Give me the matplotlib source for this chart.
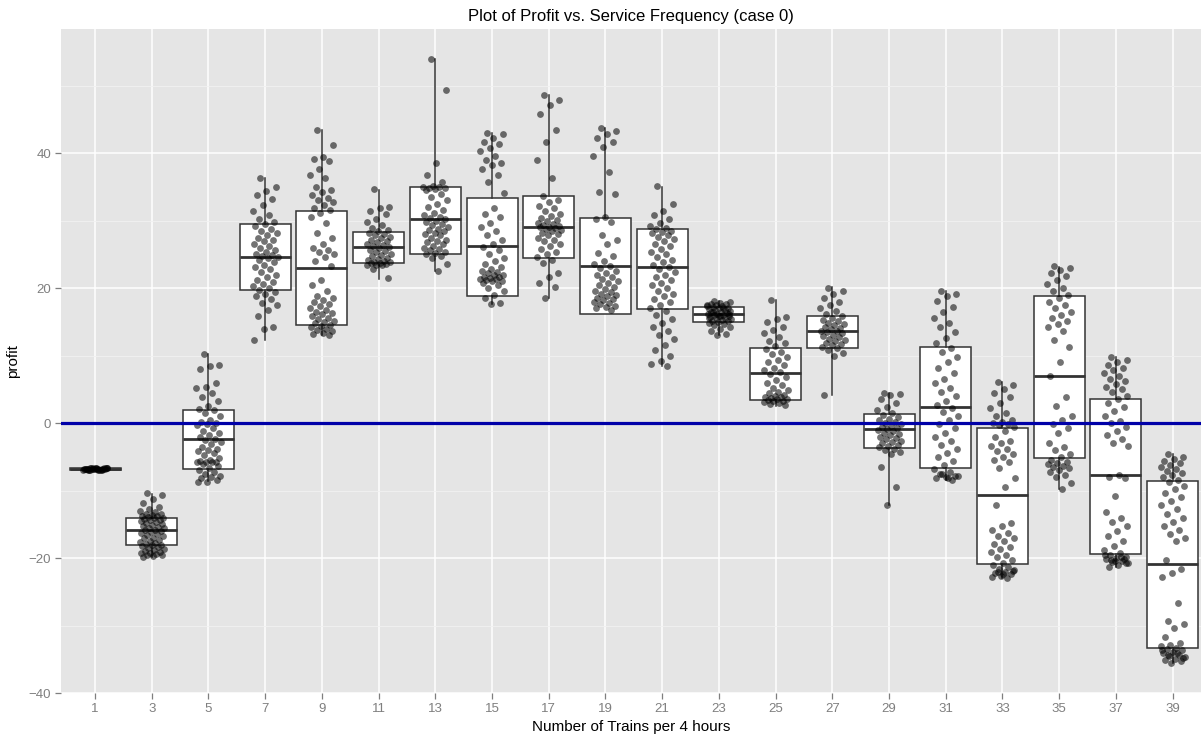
import numpy as np
import matplotlib
matplotlib.use("Agg")
import matplotlib.pyplot as plt
from matplotlib.ticker import MultipleLocator

plt.rcParams['font.family'] = ['Liberation Sans', 'DejaVu Sans']

# --- Data ---
TRAINS = [1, 3, 5, 7, 9, 11, 13, 15, 17, 19, 21, 23, 25, 27, 29, 31, 33, 35, 37, 39]

# box summary per service frequency
Q1 = [-6.95, -18.1, -6.8, 19.7, 14.6, 23.7, 25.1, 18.9, 24.5, 16.1,
      16.9, 15.0, 3.4, 11.1, -3.7, -6.7, -20.9, -5.2, -19.4, -33.4]
MEDIAN = [-6.8, -15.9, -2.3, 24.6, 23.0, 26.1, 30.2, 26.3, 29.1, 23.3,
          23.1, 16.1, 7.4, 13.6, -0.9, 2.4, -10.7, 7.0, -7.7, -20.9]
Q3 = [-6.65, -14.0, 1.9, 29.5, 31.4, 28.3, 35.0, 33.4, 33.7, 30.4,
      28.8, 17.2, 11.2, 15.9, 1.4, 11.3, -0.7, 18.9, 3.6, -8.6]
WHISK_LO = [-7.0, -19.8, -8.6, 12.3, 13.0, 21.4, 22.6, 17.6, 18.6, 16.1,
            8.5, 13.0, 2.6, 4.1, -12.1, -8.4, -23.0, -9.8, -21.3, -35.6]
WHISK_HI = [-6.6, -10.5, 10.2, 36.3, 43.4, 34.6, 53.9, 43.0, 48.6, 43.7,
            35.0, 18.1, 18.2, 20.1, 4.5, 19.5, 6.1, 23.2, 9.8, -4.6]

# individual simulation runs (profit)
profit_1 = [-6.6, -6.7, -6.7, -6.8, -6.8, -6.8, -6.9, -6.9, -7.0, -6.7, -6.8, -6.8, -6.9, -6.7, -6.6,
            -6.8, -6.9, -6.8, -6.7, -6.8, -6.9, -7.0, -6.8, -6.7, -6.8, -6.9, -6.8, -6.7, -6.8, -6.8]
profit_3 = [-10.3, -10.6, -11.2, -11.8, -12.4, -12.8, -13.0, -13.2, -13.4, -13.5, -13.6, -13.7, -13.8, -13.9, -14.0,
            -14.1, -14.2, -14.3, -14.4, -14.5, -14.6, -14.8, -15.0, -15.1, -15.2, -15.4, -15.5, -15.6, -15.8, -15.9,
            -16.0, -16.1, -16.3, -16.5, -16.6, -16.8, -17.0, -17.1, -17.3, -17.5, -17.6, -17.8, -17.9, -18.0, -18.1,
            -18.2, -18.4, -18.5, -18.7, -18.8, -19.0, -19.1, -19.2, -19.3, -19.4, -19.5, -19.6, -19.7, -19.8]
profit_5 = [10.2, 8.6, 8.4, 8.0, 5.9, 5.3, 5.2, 4.5, 3.9, 3.3, 2.6, 2.1, 1.9, 1.5, 1.0, 0.5, 0.2, 0.0, -0.1,
            -0.3, -0.8, -1.2, -1.5, -1.8, -2.0, -2.3, -2.5, -2.8, -3.1, -3.5, -3.8, -4.0, -4.2, -4.5, -4.8,
            -5.2, -5.5, -5.6, -5.7, -5.7, -5.8, -5.8, -6.0, -6.3, -6.6, -6.9, -7.2, -7.5, -7.8, -8.0, -8.2,
            -8.5, -8.7, -8.8]
profit_7 = [36.3, 35.0, 34.4, 33.8, 33.2, 32.3, 31.5, 30.8, 30.2, 29.8, 29.5, 29.2, 28.8, 28.5, 28.2, 27.9,
            27.5, 27.2, 27.0, 26.6, 26.3, 26.0, 25.7, 25.4, 25.1, 24.9, 24.7, 24.6, 24.4, 24.2, 23.9, 23.5,
            23.2, 22.8, 22.4, 22.0, 21.6, 21.2, 20.9, 20.6, 20.3, 20.0, 19.7, 19.4, 19.1, 18.8, 18.4, 17.8,
            17.5, 16.8, 15.9, 14.2, 14.0, 12.3]
profit_9 = [43.4, 41.2, 39.4, 39.2, 38.8, 37.7, 36.8, 36.3, 35.0, 34.6, 34.2, 33.8, 33.3, 33.0, 32.8, 32.3,
            31.9, 31.6, 31.2, 30.5, 29.6, 28.2, 27.4, 26.6, 26.0, 25.6, 25.3, 25.0, 24.6, 24.0, 23.3, 21.2,
            20.4, 19.6, 18.9, 18.5, 18.2, 17.9, 17.6, 17.3, 17.0, 16.8, 16.5, 16.3, 16.1, 15.9, 15.6, 15.4,
            15.2, 15.0, 14.8, 14.6, 14.4, 14.2, 14.0, 13.8, 13.6, 13.4, 13.2, 13.0]
profit_11 = [34.7, 32.0, 31.9, 31.5, 31.0, 30.3, 29.8, 29.3, 28.9, 28.6, 28.4, 28.2, 28.0, 27.8, 27.6, 27.4,
             27.2, 27.0, 26.8, 26.6, 26.4, 26.2, 26.1, 25.9, 25.7, 25.5, 25.3, 25.1, 24.9, 24.7, 24.5, 24.3,
             24.1, 24.0, 23.9, 23.8, 23.7, 23.7, 23.6, 23.5, 23.4, 23.5, 22.8, 21.5]
profit_13 = [53.9, 49.3, 38.5, 36.7, 35.8, 35.2, 35.0, 35.0, 34.9, 34.8, 34.7, 34.5, 34.0, 33.5, 33.0, 32.5,
             32.0, 31.6, 31.2, 30.9, 30.6, 30.4, 30.2, 30.0, 29.8, 29.5, 29.3, 29.0, 28.8, 28.6, 28.4, 28.2,
             28.0, 27.8, 27.5, 27.2, 27.0, 26.8, 26.5, 26.2, 26.0, 25.8, 25.6, 25.4, 25.2, 25.0, 24.8, 24.4,
             23.6, 22.6]
profit_15 = [43.0, 42.8, 42.3, 41.7, 41.3, 40.8, 40.3, 39.6, 39.0, 38.5, 38.2, 37.7, 36.8, 35.8, 34.1, 31.8,
             31.0, 30.5, 29.7, 29.0, 28.4, 27.8, 27.2, 26.6, 26.1, 25.6, 25.0, 24.5, 24.0, 23.6, 23.2, 22.9,
             22.6, 22.4, 22.2, 22.0, 21.9, 21.7, 21.6, 21.5, 21.4, 21.3, 21.2, 21.1, 21.0, 20.8, 20.5, 20.0,
             19.5, 19.0, 18.6, 17.8, 17.6]
profit_17 = [48.6, 47.9, 47.2, 45.8, 43.5, 41.6, 39.0, 36.3, 33.6, 33.1, 32.7, 32.2, 31.8, 31.4, 31.0, 30.7,
             30.4, 30.1, 29.9, 29.7, 29.5, 29.3, 29.2, 29.1, 29.0, 28.9, 28.8, 28.6, 28.4, 28.2, 28.0, 27.8,
             27.5, 27.2, 27.0, 26.6, 26.2, 25.8, 25.4, 25.0, 24.6, 24.2, 23.7, 22.2, 21.6, 20.8, 20.2, 18.6]
profit_19 = [43.7, 43.3, 42.8, 42.2, 41.6, 40.9, 39.6, 37.2, 34.3, 34.0, 30.5, 30.2, 29.8, 27.9, 27.2, 26.6,
             25.2, 24.8, 24.0, 23.6, 23.3, 23.0, 22.6, 22.2, 21.9, 21.6, 21.3, 21.0, 20.7, 20.4, 20.1, 19.8,
             19.6, 19.4, 19.2, 19.0, 18.8, 18.6, 18.4, 18.2, 18.0, 17.8, 17.6, 17.4, 17.2, 17.0, 16.8]
profit_21 = [35.1, 32.4, 31.5, 30.8, 30.2, 29.6, 29.2, 28.9, 28.7, 28.5, 28.3, 28.1, 27.9, 27.6, 27.3, 27.0,
             26.6, 26.2, 25.8, 25.4, 25.0, 24.6, 24.2, 23.8, 23.4, 23.1, 22.8, 22.4, 22.0, 21.6, 21.2, 20.8,
             20.4, 20.0, 19.6, 19.2, 18.8, 18.4, 18.0, 17.5, 17.0, 16.6, 16.0, 15.4, 14.8, 14.2, 13.6, 13.0,
             12.4, 11.6, 10.8, 10.0, 9.2, 8.8, 8.5]
profit_23 = [18.1, 17.9, 17.8, 17.7, 17.6, 17.5, 17.4, 17.3, 17.2, 17.1, 17.0, 16.9, 16.8, 16.7, 16.6, 16.5,
             16.4, 16.3, 16.2, 16.1, 16.0, 16.0, 15.9, 15.8, 15.7, 15.6, 15.5, 15.4, 15.3, 15.2, 15.1, 15.0,
             14.9, 14.7, 14.5, 14.3, 14.0, 13.6, 13.2, 13.0, 17.5, 17.0, 16.5, 16.2, 15.8, 15.5]
profit_25 = [18.2, 15.7, 15.4, 15.0, 14.3, 13.8, 13.4, 12.8, 12.2, 11.8, 11.4, 11.0, 10.6, 10.2, 9.8, 9.4,
             9.0, 8.6, 8.2, 7.8, 7.5, 7.2, 6.8, 6.4, 6.0, 5.6, 5.2, 4.9, 4.6, 4.4, 4.2, 4.0, 3.9, 3.8, 3.7,
             3.6, 3.5, 3.4, 3.3, 3.2, 3.1, 3.0, 2.9, 2.7]
profit_27 = [20.0, 19.6, 19.1, 18.6, 18.0, 17.5, 17.0, 16.6, 16.2, 15.9, 15.6, 15.3, 15.1, 14.9, 14.7, 14.5,
             14.3, 14.1, 13.9, 13.7, 13.6, 13.5, 13.3, 13.1, 12.9, 12.7, 12.5, 12.3, 12.1, 11.9, 11.7, 11.5,
             11.3, 11.1, 10.8, 10.4, 10.0, 4.1]
profit_29 = [4.5, 4.3, 4.2, 3.6, 3.0, 2.4, 1.9, 1.5, 1.2, 0.9, 0.6, 0.4, 0.2, 0.0, -0.2, -0.4, -0.6, -0.8,
             -0.9, -1.0, -1.2, -1.4, -1.6, -1.8, -2.0, -2.2, -2.4, -2.6, -2.8, -3.0, -3.2, -3.4, -3.6, -3.8,
             -4.0, -4.3, -4.6, -6.5, -9.4, -12.1]
profit_31 = [19.5, 19.2, 18.8, 18.1, 17.2, 16.4, 15.6, 14.8, 14.2, 13.5, 12.6, 11.8, 11.2, 10.5, 9.8, 9.0,
             8.2, 7.4, 6.6, 5.9, 5.2, 4.6, 4.0, 3.3, 2.7, 2.2, 1.6, 1.0, 0.4, -0.2, -0.8, -1.4, -2.0, -2.6,
             -3.2, -3.8, -4.4, -5.0, -5.6, -6.2, -6.8, -7.2, -7.5, -7.8, -8.0, -8.2, -8.4, -7.6, -7.9, -8.1]
profit_33 = [6.1, 5.6, 5.0, 4.4, 3.8, 3.0, 2.2, 1.5, 1.0, 0.5, 0.2, 0.0, -0.1, -0.3, -0.6, -1.2, -2.0, -2.6,
             -3.0, -3.4, -3.8, -4.2, -4.6, -5.0, -5.4, -5.8, -6.7, -8.1, -9.4, -12.1, -14.8, -15.3, -15.8,
             -16.3, -16.7, -17.1, -17.5, -17.9, -18.3, -18.7, -19.1, -19.5, -19.9, -20.3, -20.7, -21.0,
             -21.3, -21.6, -21.8, -22.0, -22.2, -22.4, -22.6, -22.8, -23.0, -22.1, -21.9, -22.3]
profit_35 = [23.3, 23.0, 22.7, 22.2, 21.8, 21.2, 20.6, 20.0, 19.5, 19.0, 18.5, 18.0, 17.5, 17.0, 16.5, 16.0,
             15.6, 15.2, 14.7, 14.2, 13.7, 12.3, 11.3, 9.1, 7.0, 3.9, 2.5, 1.0, 0.4, -0.2, -0.8, -1.5, -3.0,
             -3.6, -4.0, -4.6, -5.0, -5.4, -5.7, -5.9, -6.1, -6.3, -6.5, -6.7, -7.0, -7.3, -7.7, -8.0, -8.9,
             -9.8]
profit_37 = [9.8, 9.4, 9.0, 8.6, 8.2, 7.8, 7.4, 7.0, 6.6, 6.2, 5.8, 5.4, 5.0, 4.6, 4.0, 3.6, 3.0, 2.4, 1.8,
             1.0, 0.3, 0.0, -0.6, -1.2, -1.8, -2.4, -3.0, -3.4, -7.7, -8.0, -8.2, -10.8, -13.2, -14.0, -14.6,
             -15.3, -16.0, -16.8, -17.5, -18.2, -18.8, -19.3, -19.6, -19.8, -20.0, -20.2, -20.4, -20.6,
             -20.8, -21.0, -21.3, -20.1, -20.5, -19.5, -19.9, -20.3, -20.7]
profit_39 = [-4.6, -5.0, -5.3, -5.6, -5.9, -6.2, -6.5, -6.8, -7.1, -7.4, -7.7, -8.0, -8.4, -8.8, -9.3, -9.8,
             -10.4, -11.0, -11.6, -12.2, -12.8, -13.4, -14.0, -14.6, -15.2, -15.8, -16.4, -17.0, -17.5,
             -20.3, -21.6, -22.2, -22.8, -26.7, -29.4, -29.8, -30.4, -31.7, -32.6, -32.9, -33.1, -33.3,
             -33.5, -33.7, -33.9, -34.1, -34.3, -34.5, -34.7, -34.9, -35.1, -35.3, -35.6, -33.6, -34.0,
             -34.4, -34.8]

PROFITS = [profit_1, profit_3, profit_5, profit_7, profit_9, profit_11, profit_13, profit_15,
           profit_17, profit_19, profit_21, profit_23, profit_25, profit_27, profit_29, profit_31,
           profit_33, profit_35, profit_37, profit_39]

# --- Plot ---
fig = plt.figure(figsize=(12.01, 7.44), dpi=100)
ax = fig.add_axes([61 / 1201, 51 / 744, 1140 / 1201, 664 / 744])
ax.set_facecolor('#E5E5E5')
for s in ax.spines.values():
    s.set_visible(False)

positions = np.arange(len(TRAINS))
stats = [dict(med=m, q1=a, q3=b, whislo=lo, whishi=hi, fliers=[])
         for m, a, b, lo, hi in zip(MEDIAN, Q1, Q3, WHISK_LO, WHISK_HI)]
ax.bxp(stats, positions=positions, widths=0.9, showcaps=False, showfliers=False,
       patch_artist=True,
       boxprops=dict(facecolor='white', edgecolor='#333333', linewidth=1.1),
       whiskerprops=dict(color='#333333', linewidth=1.1),
       medianprops=dict(color='#333333', linewidth=2.0),
       zorder=2)

# jittered runs, spread with a golden-ratio sequence
for pos, vals in zip(positions, PROFITS):
    n = len(vals)
    offs = ((np.arange(n) * 0.618034 + 0.31) % 1 - 0.5) * 0.44
    ax.scatter(pos + offs, vals, s=24, color='black', alpha=0.55, linewidths=0, zorder=3)

ax.axhline(0, color='#0000A8', linewidth=2.3, zorder=4)

ax.set_xlim(-0.6, 19.5)
ax.set_ylim(-40, 58.4)
ax.set_xticks(positions)
ax.set_xticklabels([str(t) for t in TRAINS])
ax.yaxis.set_major_locator(MultipleLocator(20))
ax.yaxis.set_minor_locator(MultipleLocator(10))
ax.grid(which='major', color='white', linewidth=1.1, zorder=0)
ax.grid(which='minor', axis='y', color='#F2F2F2', linewidth=0.6, zorder=0)
ax.set_axisbelow(True)
ax.tick_params(which='major', colors='#7F7F7F', labelsize=9.5, length=4, width=0.9, pad=3)
ax.tick_params(which='minor', length=0)

ax.set_title('Plot of Profit vs. Service Frequency (case 0)', fontsize=12, pad=6)
ax.set_xlabel('Number of Trains per 4 hours', fontsize=11, labelpad=4)
ax.set_ylabel('profit', fontsize=11, labelpad=6)

fig.savefig('out.png', dpi=100)
